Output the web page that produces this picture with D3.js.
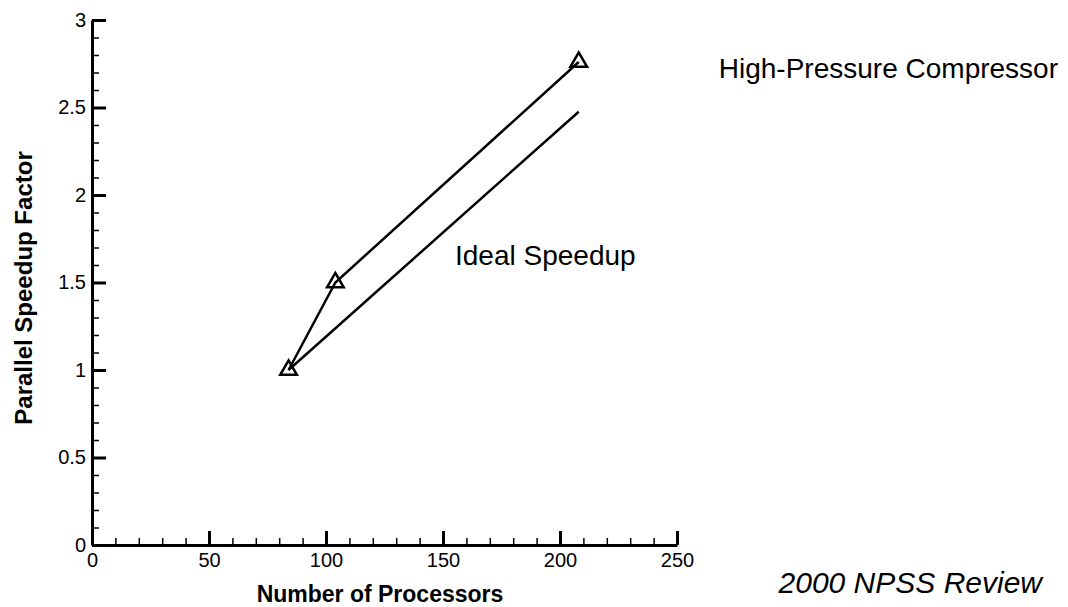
<!DOCTYPE html>
<html>
<head>
<meta charset="utf-8">
<script src="https://cdn.jsdelivr.net/npm/d3@7"></script>
<style>
  body { margin: 0; background: #fff; }
  svg text { font-family: "Liberation Sans", Arial, sans-serif; fill: #000; }
</style>
</head>
<body>
<svg id="chart" width="1068" height="607"></svg>
<script>
// data
var processors = [84, 104, 208]
var speedup = [1, 1.5, 2.76]
var idealProcessors = [84, 208]
var idealSpeedup = [1, 2.476]

var xMajor = [0, 50, 100, 150, 200, 250]
var yMajor = [0, 0.5, 1, 1.5, 2, 2.5, 3]
var yLabels = ["0", "0.5", "1", "1.5", "2", "2.5", "3"]

var svg = d3.select("#chart")

var x = d3.scaleLinear().domain([0, 250]).range([92, 677])
var y = d3.scaleLinear().domain([0, 3]).range([545, 20])

// minor ticks
var xMinor = d3.range(0, 251, 10).filter(d => d % 50 != 0)
var yMinor = d3.range(0, 31, 1).map(d => d / 10).filter(d => Math.round(d * 10) % 5 != 0)

svg.append("g")
    .attr("transform", `translate(0,${y(0)})`)
    .call(d3.axisBottom(x).tickValues(xMinor).tickSize(-7).tickFormat("").tickSizeOuter(0))
    .call(g => g.select(".domain").remove())
    .selectAll("line").attr("stroke-width", 1.5)
svg.append("g")
    .attr("transform", `translate(${x(0)},0)`)
    .call(d3.axisLeft(y).tickValues(yMinor).tickSize(-7).tickFormat("").tickSizeOuter(0))
    .call(g => g.select(".domain").remove())
    .selectAll("line").attr("stroke-width", 1.5)

// major ticks + labels
var xAxis = svg.append("g")
    .attr("transform", `translate(0,${y(0)})`)
    .call(d3.axisBottom(x).tickValues(xMajor).tickSize(-14).tickPadding(8).tickSizeOuter(0))
xAxis.select(".domain").attr("stroke-width", 3)
xAxis.selectAll("line").attr("stroke-width", 3)
xAxis.selectAll("text").attr("font-size", 20)

var yAxis = svg.append("g")
    .attr("transform", `translate(${x(0)},0)`)
    .call(d3.axisLeft(y).tickValues(yMajor).tickFormat((d, i) => yLabels[i]).tickSize(-14).tickPadding(6).tickSizeOuter(0))
yAxis.select(".domain").attr("stroke-width", 3)
yAxis.selectAll("line").attr("stroke-width", 3)
yAxis.selectAll("text").attr("font-size", 20)

// ideal speedup line
svg.append("path")
    .datum(idealProcessors.map((p, i) => [p, idealSpeedup[i]]))
    .attr("fill", "none")
    .attr("stroke", "black")
    .attr("stroke-width", 2.5)
    .attr("d", d3.line().x(d => x(d[0])).y(d => y(d[1])))

// measured speedup
var pts = processors.map((p, i) => [p, speedup[i]])
svg.append("path")
    .datum(pts)
    .attr("fill", "none")
    .attr("stroke", "black")
    .attr("stroke-width", 2.5)
    .attr("d", d3.line().x(d => x(d[0])).y(d => y(d[1])))

svg.selectAll(".tri")
    .data(pts)
    .join("path")
    .attr("class", "tri")
    .attr("transform", d => `translate(${x(d[0])},${y(d[1])})`)
    .attr("d", d3.symbol(d3.symbolTriangle, 120))
    .attr("fill", "none")
    .attr("stroke", "black")
    .attr("stroke-width", 2.5)

// axis titles
svg.append("text")
    .attr("x", 380)
    .attr("y", 602)
    .attr("text-anchor", "middle")
    .attr("font-weight", "bold")
    .attr("font-size", 23)
    .text("Number of Processors")
svg.append("text")
    .attr("transform", `translate(32,288) rotate(-90)`)
    .attr("text-anchor", "middle")
    .attr("font-weight", "bold")
    .attr("font-size", 24)
    .text("Parallel Speedup Factor")

// annotations
svg.append("text")
    .attr("x", 1058)
    .attr("y", 78)
    .attr("text-anchor", "end")
    .attr("font-size", 28)
    .text("High-Pressure Compressor")
svg.append("text")
    .attr("x", 455)
    .attr("y", 265)
    .attr("font-size", 28)
    .text("Ideal Speedup")
svg.append("text")
    .attr("x", 1042)
    .attr("y", 593)
    .attr("text-anchor", "end")
    .attr("font-style", "italic")
    .attr("font-size", 30)
    .text("2000 NPSS Review")
</script>
</body>
</html>
